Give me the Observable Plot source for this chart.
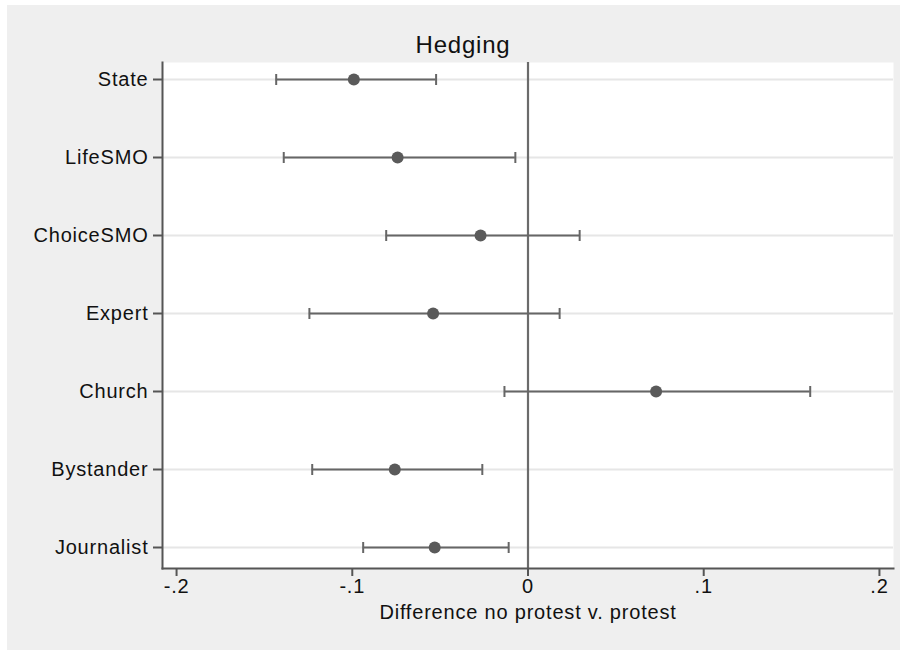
<!DOCTYPE html>
<html><head><meta charset="utf-8">
<script src="https://cdn.jsdelivr.net/npm/d3@7"></script>
<script src="https://cdn.jsdelivr.net/npm/@observablehq/plot@0.6"></script>
<style>
body{margin:0;background:#fff;}
#bg{position:absolute;left:7px;top:5px;width:893px;height:645px;background:#efefef;}
#chart{position:absolute;left:0;top:0;}
</style></head><body><div id="bg"></div><div id="chart"></div>
<script>
const categories = ["State","LifeSMO","ChoiceSMO","Expert","Church","Bystander","Journalist"];
const estimates = [-0.0991,-0.0742,-0.0270,-0.0540,0.0729,-0.0758,-0.0531];
const lower = [-0.1433,-0.1390,-0.0807,-0.1244,-0.0134,-0.1228,-0.0938];
const upper = [-0.0523,-0.0072,0.0294,0.0180,0.1606,-0.0260,-0.0110];
const xTicks = [-0.2,-0.1,0,0.1,0.2];
const xTickLabels = ["-.2","-.1","0",".1",".2"];
const title = "Hedging";
const xLabel = "Difference no protest v. protest";

const data = categories.map((c,i)=>({cat:c, est:estimates[i], lo:lower[i], hi:upper[i]}));
const capSymbol = {draw(ctx, size){ const r = Math.sqrt(size/Math.PI); ctx.moveTo(0,-r); ctx.lineTo(0,r); }};
const ink = "#111";
const grey = "#666";

const chart = Plot.plot({
  width: 906, height: 650,
  marginLeft: 162, marginRight: 13, marginTop: 62, marginBottom: 82,
  style: {background: "transparent", fontFamily: "'Liberation Sans', Arial, Helvetica, sans-serif", fontSize: "20px", letterSpacing: "0.8px", color: ink},
  x: {domain: [-0.208, 0.208]},
  y: {type: "point", domain: categories, range: [77, 548], padding: 0},
  marks: [
    Plot.frame({fill: "white", stroke: null}),
    Plot.ruleY(categories, {y: d => d, stroke: "#e6e6e6", strokeWidth: 2}),
    Plot.ruleX([0], {stroke: "#6b6b6b", strokeWidth: 2.2}),
    Plot.ruleY(data, {y: "cat", x1: "lo", x2: "hi", stroke: grey, strokeWidth: 2}),
    Plot.dot(data, {x: "lo", y: "cat", symbol: capSymbol, r: 5.5, stroke: grey, strokeWidth: 2, fill: "none"}),
    Plot.dot(data, {x: "hi", y: "cat", symbol: capSymbol, r: 5.5, stroke: grey, strokeWidth: 2, fill: "none"}),
    Plot.dot(data, {x: "est", y: "cat", r: 6, fill: "#5a5a5a", stroke: "none"}),
    Plot.frame({anchor: "left", stroke: "#555", strokeWidth: 2}),
    Plot.frame({anchor: "bottom", stroke: "#555", strokeWidth: 2}),
    Plot.axisY({tickSize: 9, tickPadding: 5, stroke: "#555", strokeWidth: 2, fill: ink, label: null}),
    Plot.axisX({ticks: xTicks, tickFormat: d => xTickLabels[xTicks.indexOf(d)], tickSize: 8, tickPadding: 2, stroke: "#555", strokeWidth: 2, fill: ink, label: null}),
    Plot.text([title], {frameAnchor: "top", lineAnchor: "middle", dx: -65, dy: -17, fontSize: 24, fill: ink}),
    Plot.text([xLabel], {frameAnchor: "bottom", lineAnchor: "middle", dy: 44, fontSize: 20, fill: ink})
  ]
});
document.getElementById("chart").append(chart);
</script></body></html>
